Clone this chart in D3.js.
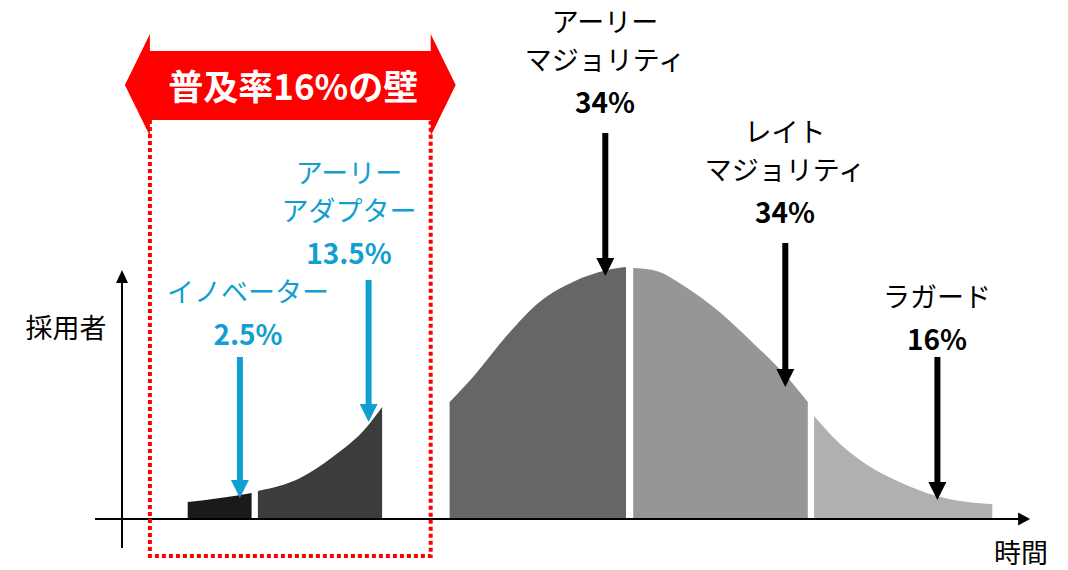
<!DOCTYPE html>
<html lang="ja">
<head>
  <meta charset="UTF-8">
  <title>イノベーター理論とキャズム</title>
  <script src="https://d3js.org/d3.v7.min.js"></script>
  <style>
    body { margin: 0; background: #fff; }
    svg text { font-family: "Noto Sans CJK JP", "Noto Sans", sans-serif; }
    .name { font-size: 27px; font-weight: 400; }
    .share { font-size: 28px; font-weight: 700; }
  </style>
</head>
<body>
<div id="chart"></div>
<script>
// segments of the adoption curve (left to right)
const segmentNames = ["イノベーター", "アーリーアダプター", "アーリーマジョリティ", "レイトマジョリティ", "ラガード"];
const segmentShares = ["2.5%", "13.5%", "34%", "34%", "16%"];

// top edge of each segment: time (0-100) / adopters (% of peak)
const innovatorsCurve = [[7.3, 6.7], [10.9, 8.3], [14.4, 10.3]];
const earlyAdoptersCurve = [[15.1, 11.1], [19.8, 16.2], [23.4, 24.5], [27.2, 36.4], [28.9, 44.3]];
const earlyMajorityCurve = [[36.4, 46.2], [39.0, 56.1], [42.8, 72.7], [46.4, 85.8], [50.1, 93.7], [53.9, 98.4], [56.0, 99.6]];
const lateMajorityCurve = [[56.8, 99.2], [59.0, 98.4], [62.8, 91.3], [66.4, 81.8], [70.1, 69.6], [73.9, 56.1], [76.2, 46.2]];
const laggardsCurve = [[76.9, 40.7], [79.0, 32.4], [82.8, 21.3], [86.4, 14.6], [90.1, 9.5], [93.9, 6.7], [96.7, 5.9]];
const curves = [innovatorsCurve, earlyAdoptersCurve, earlyMajorityCurve, lateMajorityCurve, laggardsCurve];

// where each label's arrow points (time, adopters)
const arrowTargets = [[13.1, 8.3], [27.4, 38.3], [53.7, 96], [73.7, 52.2], [90.6, 7.5]];

// the 16% wall spans these times
const wallRange = [3.1, 34.3];
const wallLabel = "普及率16%の壁";
const yAxisLabel = "採用者";
const xAxisLabel = "時間";

// styles / layout
const fills = ["#1a1a1a", "#3c3c3c", "#666666", "#969696", "#b0b0b0"];
const labelColors = ["#109fd0", "#109fd0", "#000", "#000", "#000"];
const nameLines = [["イノベーター"], ["アーリー", "アダプター"], ["アーリー", "マジョリティ"], ["レイト", "マジョリティ"], ["ラガード"]];
const labelX = [248, 349, 605, 785, 937];
const labelTop = [302, 183, 32, 142, 307];   // baseline of first line
const arrowTop = [357, 280, 133, 243, 357];
const lineGap = 38;

const W = 1068, H = 570;
const svg = d3.select("#chart").append("svg").attr("width", W).attr("height", H);

const x = d3.scaleLinear().domain([0, 100]).range([122, 1022]);
const y = d3.scaleLinear().domain([0, 100]).range([519, 266]);

// curve segments
const area = d3.area()
  .x(d => x(d[0]))
  .y0(y(0))
  .y1(d => y(d[1]))
  .curve(d3.curveMonotoneX);

svg.selectAll(".seg")
  .data(curves)
  .join("path")
  .attr("class", "seg")
  .attr("d", area)
  .attr("fill", (d, i) => fills[i]);

// axes
const axisG = svg.append("g");
axisG.append("line")
  .attr("x1", x(-3)).attr("x2", x(100)).attr("y1", y(0)).attr("y2", y(0))
  .attr("stroke", "#000").attr("stroke-width", 2);
axisG.append("path")
  .attr("d", `M${x(100.9)},${y(0)} L${x(100.9) - 12},${y(0) - 6.5} L${x(100.9) - 12},${y(0) + 6.5} Z`)
  .attr("fill", "#000");
axisG.append("line")
  .attr("x1", x(0)).attr("x2", x(0)).attr("y1", y(-11.5)).attr("y2", y(96))
  .attr("stroke", "#000").attr("stroke-width", 2);
axisG.append("path")
  .attr("d", `M${x(0)},${y(98.4)} L${x(0) - 6},${y(98.4) + 13} L${x(0) + 6},${y(98.4) + 13} Z`)
  .attr("fill", "#000");

svg.append("text").attr("class", "name")
  .attr("x", 66).attr("y", 338).attr("text-anchor", "middle").text(yAxisLabel);
svg.append("text").attr("class", "name")
  .attr("x", 1021).attr("y", 563).attr("text-anchor", "middle").text(xAxisLabel);

// 16% wall: dotted box + red double arrow
const wx0 = x(wallRange[0]), wx1 = x(wallRange[1]);
svg.append("path")
  .attr("d", `M${wx0},120 V556 H${wx1} V120`)
  .attr("fill", "none")
  .attr("stroke", "#ff0000")
  .attr("stroke-width", 4)
  .attr("stroke-dasharray", "4 3");

svg.append("path")
  .attr("d", `M${wx0 - 25},85 L${wx0},34 V51 H${wx1} V34 L${wx1 + 25},85 L${wx1},136 V120 H${wx0} V136 Z`)
  .attr("fill", "#ff0000");

svg.append("text")
  .attr("x", (wx0 + wx1) / 2 + 3).attr("y", 100)
  .attr("text-anchor", "middle")
  .attr("fill", "#fff")
  .attr("font-size", 35).attr("font-weight", 700)
  .text(wallLabel);

// labels and arrows
segmentNames.forEach((name, i) => {
  const g = svg.append("g").attr("fill", labelColors[i]);
  nameLines[i].forEach((line, j) => {
    g.append("text").attr("class", "name")
      .attr("x", labelX[i]).attr("y", labelTop[i] + j * lineGap)
      .attr("text-anchor", "middle").text(line);
  });
  g.append("text").attr("class", "share")
    .attr("x", labelX[i]).attr("y", labelTop[i] + nameLines[i].length * lineGap + 5)
    .attr("text-anchor", "middle").text(segmentShares[i]);

  const ax = x(arrowTargets[i][0]);
  const tip = y(arrowTargets[i][1]);
  g.append("line")
    .attr("x1", ax).attr("x2", ax).attr("y1", arrowTop[i]).attr("y2", tip - 16)
    .attr("stroke", labelColors[i]).attr("stroke-width", 6);
  g.append("path")
    .attr("d", `M${ax},${tip} L${ax - 9},${tip - 18} L${ax + 9},${tip - 18} Z`);
});
</script>
</body>
</html>
